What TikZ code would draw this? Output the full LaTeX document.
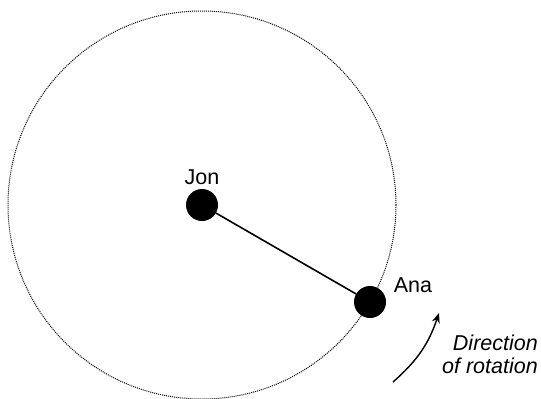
\documentclass[tikz,border=0pt]{standalone}
\usepackage{fontspec}
\setmainfont{Liberation Sans}
\usepackage{tikz}
\usetikzlibrary{arrows.meta,positioning}
\tikzset{
  dot/.style={circle,fill=black,minimum size=32pt,inner sep=0pt},
  orbit/.style={densely dotted,black,line width=1pt},
  rod/.style={line width=1.6pt},
  turn/.style={line width=1.4pt,-{Stealth[length=10pt,width=8pt]}},
  lbl/.style={inner sep=0pt,font=\fontsize{21.5}{24}\selectfont}
}
\begin{document}
\begin{tikzpicture}[x=1pt,y=-1pt]
\useasboundingbox (0,0) rectangle (541,399);
\node[dot] (jon) at (202,205) {};
\node[dot] (ana) at (370,302) {};
\draw[orbit] (jon.center) circle (194pt);
\draw[rod] (jon) -- (ana);
\node[lbl] (jonlbl) at (202,177) {Jon};
\node[lbl] (analbl) at (413,285) {Ana};
\node[lbl,align=right,anchor=east,font=\fontsize{21.5}{23}\selectfont\itshape] (dirlbl) at (538,354) {Direction\\of rotation};
\coordinate (arrs) at (393,382);
\coordinate (arre) at (439,313);
\draw[turn] (arrs) to[bend right=15] (arre);
\end{tikzpicture}
\end{document}
